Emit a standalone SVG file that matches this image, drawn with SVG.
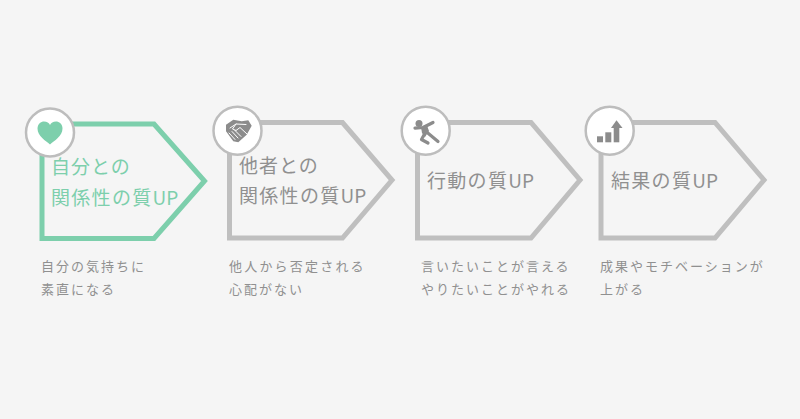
<svg xmlns="http://www.w3.org/2000/svg" width="800" height="419" viewBox="0 0 800 419">
<style>
.bg{fill:#f5f5f5}
.p{fill:none;stroke:#bfbfbf;stroke-width:5}
.g{stroke:#7dcfac}
.c{fill:#fff;stroke:#bdbdbd;stroke-width:2.5}
.i{fill:#8c8c8c}
.l{fill:none;stroke:#8c8c8c;stroke-width:3.2;stroke-linecap:round;stroke-linejoin:round}
.w{fill:none;stroke:#fff;stroke-width:1;stroke-linecap:round;stroke-linejoin:round}
text{font-family:"Noto Sans CJK JP","Noto Sans",sans-serif}
.t{font-size:19px;letter-spacing:1.3px;fill:#909090}
.tg{fill:#7dcfac}
.u{letter-spacing:0}
.o{letter-spacing:1px}
.s{font-size:13px;letter-spacing:2px;fill:#909090}
</style>
<rect class="bg" width="800" height="419"/>
<g id="node1">
<path class="p g" d="M42 124H154L204.500 181L154 238.500H42Z"/>
<circle class="c" cx="50" cy="132.500" r="24"/>
<path fill="#7dcfac" d="M50 144.500C46 141 37.500 136 37.500 128.500C37.500 124 41 121.500 44 121.500C47 121.500 49 123 50 125C51 123 53 121.500 56 121.500C59 121.500 62.500 124 62.500 128.500C62.500 136 54 141 50 144.500Z"/>
<text class="t tg o" x="51" y="174">自分との</text>
<text class="t tg" x="51" y="205">関係性の質<tspan class="u">UP</tspan></text>
<text class="s" x="41" y="270.500">自分の気持ちに</text>
<text class="s" x="41" y="293.500">素直になる</text>
</g>
<g id="node2">
<path class="p" d="M229.500 122.500H342.500L392 180L342.500 238H229.500Z"/>
<circle class="c" cx="237.500" cy="130.700" r="24"/>
<path class="i" d="M226 124.700L233.300 119.700L241.700 121.300L248.300 120.300L251.700 125.700L246.700 134.700L238.300 142.300L233.300 141.300L226 131.300Z"/>
<path class="w" d="M230 128L236 124L246 124.500M236 124L232.500 129L236 130.500L240 127.500L247 134M229 133L235 139.500M232 131.500L238 138M235 130.500L241 136.500"/>
<text class="t o" x="239" y="173">他者との</text>
<text class="t" x="239" y="203">関係性の質<tspan class="u">UP</tspan></text>
<text class="s" x="229" y="270.500" style="letter-spacing:2.2px">他人から否定される</text>
<text class="s" x="229" y="293.500">心配がない</text>
</g>
<g id="node3">
<path class="p" d="M417.500 122.500H531L580 180L531 238H417.500Z"/>
<circle class="c" cx="425.700" cy="130.700" r="24"/>
<circle class="i" cx="419" cy="123.500" r="3.500"/>
<path class="l" d="M415 128.200L423 127.500L433 122.500M423 127.500L426 131.500L438 141.500M424.500 134L421.500 139.500L428 143"/>
<path class="i" d="M421 127L427 125.500L429 131L425 137L422 133Z"/>
<text class="t" x="427" y="188">行動の質<tspan class="u">UP</tspan></text>
<text class="s" x="421" y="270.500">言いたいことが言える</text>
<text class="s" x="421" y="293.500">やりたいことがやれる</text>
</g>
<g id="node4">
<path class="p" d="M601 122.500H715L764 180L715 238H601Z"/>
<circle class="c" cx="609.700" cy="130.700" r="24"/>
<rect class="i" x="597" y="136.300" width="6" height="6"/>
<rect class="i" x="605.300" y="132.300" width="6" height="10"/>
<rect class="i" x="613.700" y="127" width="5.600" height="15.300"/>
<path class="i" d="M611 128L616.500 120.300L622.500 128Z"/>
<text class="t" x="611" y="188">結果の質<tspan class="u">UP</tspan></text>
<text class="s" x="600" y="270.500">成果やモチベーションが</text>
<text class="s" x="600" y="293.500">上がる</text>
</g>
<g id="connectors"></g>
</svg>
